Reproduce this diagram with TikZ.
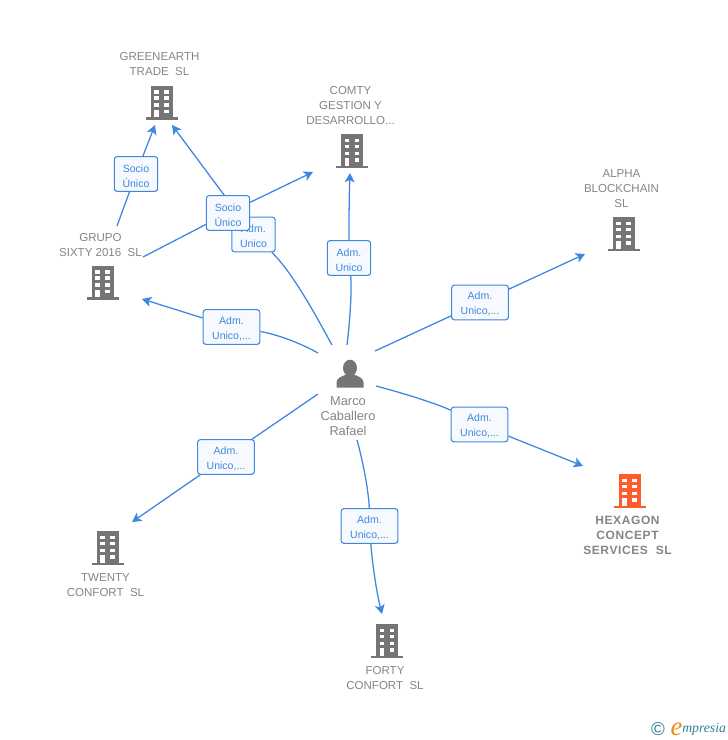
\documentclass[tikz,border=0pt]{standalone}
\usepackage{fontspec}
\setmainfont{Liberation Sans}
\newfontfamily\logofont{Liberation Serif}
\newcommand{\rolestrut}{\rule{0pt}{8.4pt}}
\definecolor{txtgray}{HTML}{858585}
\definecolor{icongray}{HTML}{757575}
\definecolor{linkblue}{HTML}{3F86E0}
\definecolor{labelfill}{HTML}{F6FAFF}
\definecolor{labeltext}{HTML}{3F86E0}
\definecolor{hexorange}{HTML}{FF5C2E}
\definecolor{logoteal}{HTML}{2F7F95}
\definecolor{logoorange}{HTML}{F08A1D}
\usetikzlibrary{arrows.meta}
\pgfdeclarelayer{lines}
\pgfsetlayers{lines,main}
\tikzset{
  x=0.75pt,y=-0.75pt,
  link/.style={draw=linkblue,line width=0.95pt},
  arrowlink/.style={link,-{Stealth[length=7pt,width=7.5pt,inset=1.8pt]}},
  rolebox/.style={draw=linkblue,line width=0.8pt,fill=labelfill,rounded corners=2pt,text=labeltext,
    font=\fontsize{7.9}{11.3}\selectfont,align=center,inner sep=0pt,minimum height=26pt},
  narrowbox/.style={rolebox,minimum width=32.5pt},
  widebox/.style={rolebox,minimum width=42.5pt},
  company/.style={text=txtgray,font=\fontsize{8.65}{11.25}\selectfont,align=center,inner sep=0pt},
  mainco/.style={company,font=\fontsize{9}{11.2}\selectfont\bfseries\addfontfeatures{LetterSpace=5}},
  person/.style={company,font=\fontsize{9.6}{11.3}\selectfont},
  building/.pic={
    \fill[pic actions] (-11,0) rectangle (11,31.5);
    \fill[pic actions] (-16,31.5) rectangle (16,34);
    \foreach \yy in {4.5,10.5,17.5}{
      \fill[white] (-7.5,\yy) rectangle (-2.8,\yy+3.8);
      \fill[white] (2.5,\yy) rectangle (7.2,\yy+3.8);
    }
    \fill[white] (2.5,24) rectangle (7.2,27.8);
    \fill[white] (-7.5,24) rectangle (-2.8,31.5);
  }
}
\begin{document}
\begin{tikzpicture}
\useasboundingbox (0,0) rectangle (728,740);

% icons
\pic[fill=icongray] at (161.5,85.5) {building};
\pic[fill=icongray] at (352,134) {building};
\pic[fill=icongray] at (623.5,217) {building};
\pic[fill=icongray] at (102.5,265.5) {building};
\pic[fill=icongray] at (107.5,531) {building};
\pic[fill=icongray] at (387,624) {building};
\pic[fill=hexorange] at (629.5,474) {building};
% person
\fill[icongray] (350,368) ellipse (7 and 8.3);
\fill[icongray] (336.5,387.5) -- (336.5,382) .. controls (337,377.5) and (342,376.5) .. (346,374.5)
  -- (354,374.5) .. controls (358,376.5) and (363,377.5) .. (363.5,382) -- (363.5,387.5) -- cycle;

% company names
\node[company] (greenearth) at (159.5,64) {GREENEARTH\\TRADE\ \ SL};
\node[company] (comty) at (350.5,105.5) {COMTY\\GESTION Y\\DESARROLLO...};
\node[company] (alpha) at (621.5,188.5) {ALPHA\\BLOCKCHAIN\\SL};
\node[company] (grupo) at (100.5,245) {GRUPO\\SIXTY 2016\ \ SL};
\node[company] (twenty) at (105.5,585) {TWENTY\\CONFORT\ \ SL};
\node[company] (forty) at (385,678) {FORTY\\CONFORT\ \ SL};
\node[mainco] (hexagon) at (627.5,535) {HEXAGON\\CONCEPT\\SERVICES\ \ SL};
\node[person] (marco) at (348,416) {Marco\\Caballero\\Rafael};

% connector ends
\coordinate (g1) at (117,226);
\coordinate (g2) at (155,125);
\coordinate (g3) at (143,257);
\coordinate (c1) at (313,172);
\coordinate (p1) at (332,345);
\coordinate (g4) at (172,125);
\coordinate (p2) at (347,345);
\coordinate (c2) at (350,173);
\coordinate (p3) at (318,353);
\coordinate (gr) at (142,299);
\coordinate (p4) at (375,351);
\coordinate (al) at (585,254);
\coordinate (p5) at (376,386);
\coordinate (he) at (583,466);
\coordinate (p6) at (357,440);
\coordinate (fo) at (382,614);
\coordinate (p7) at (318,394);
\coordinate (tw) at (132,522);

% role boxes
\node[narrowbox] (r1) at (136,174) {\rolestrut Socio\\Único};
\node[narrowbox] (r2) at (253.5,234.5) {\rolestrut Adm.\\Unico};
\node[narrowbox] (r3) at (228,213) {\rolestrut Socio\\Único};
\node[narrowbox] (r4) at (349,258) {\rolestrut Adm.\\Unico};
\node[widebox] (r5) at (231.5,327) {\rolestrut Adm.\\Unico,...};
\node[widebox] (r6) at (480,302.5) {\rolestrut Adm.\\Unico,...};
\node[widebox] (r7) at (479.5,424.5) {\rolestrut Adm.\\Unico,...};
\node[widebox] (r8) at (369.5,526) {\rolestrut Adm.\\Unico,...};
\node[widebox] (r9) at (226,457) {\rolestrut Adm.\\Unico,...};

% connectors
\begin{pgfonlayer}{lines}
\draw[link] (g1) -- (r1);
\draw[arrowlink] (r1) -- (g2);
\draw[link] (p1) .. controls (314,312) and (292,272) .. (r2);
\draw[arrowlink] (r2) -- (g4);
\draw[link] (g3) -- (r3);
\draw[arrowlink] (r3) -- (c1);
\draw[link] (p2) .. controls (350,320) and (352,290) .. (r4);
\draw[arrowlink] (r4) .. controls (349,225) and (349,200) .. (c2);
\draw[link] (p3) .. controls (295,340) and (270,333) .. (r5);
\draw[arrowlink] (r5) -- (gr);
\draw[link] (p4) -- (r6);
\draw[arrowlink] (r6) -- (al);
\draw[link] (p5) .. controls (410,395) and (440,405) .. (r7);
\draw[arrowlink] (r7) -- (he);
\draw[link] (p6) .. controls (364,465) and (369,495) .. (r8);
\draw[arrowlink] (r8) .. controls (372,560) and (376,590) .. (fo);
\draw[link] (p7) -- (r9);
\draw[arrowlink] (r9) -- (tw);
\end{pgfonlayer}

% logo
\node[text=logoteal,font=\fontsize{14}{14}\selectfont,inner sep=0pt] (copy) at (658,729) {©};
\node[text=logoorange,font=\logofont\fontsize{20}{20}\selectfont\itshape,inner sep=0pt] (loge) at (676.5,729) {e};
\node[text=logoteal,font=\logofont\fontsize{10.3}{10.3}\selectfont\itshape,inner sep=0pt,anchor=west] (logt) at (682,729.5) {mpresia};
\end{tikzpicture}
\end{document}
